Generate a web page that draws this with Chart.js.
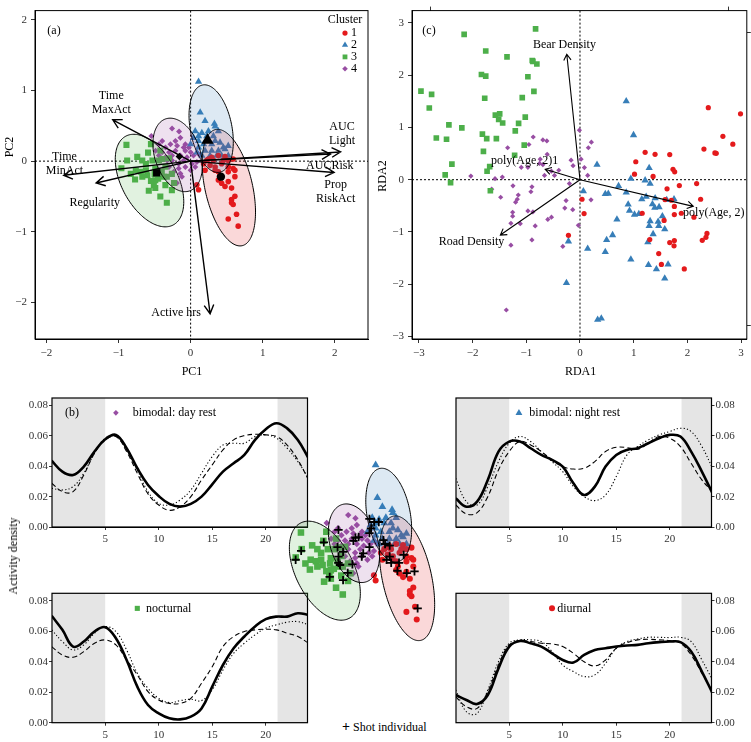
<!DOCTYPE html>
<html><head><meta charset="utf-8">
<script src="https://cdn.jsdelivr.net/npm/chart.js@4/dist/chart.umd.min.js"></script>
<style>
html,body{margin:0;padding:0;background:#fff;}
#wrap{position:relative;width:751px;height:742px;overflow:hidden;background:#fff;}
canvas{position:absolute;}
.lab{position:absolute;font-family:"Liberation Serif","DejaVu Serif",serif;font-size:12px;color:#000;white-space:nowrap;line-height:12px;}
</style></head><body>
<div id="wrap">
<canvas id="tl" width="320" height="162" style="left:0;top:390px"></canvas>
<canvas id="tr" width="311" height="162" style="left:440px;top:390px"></canvas>
<canvas id="bl" width="320" height="157" style="left:0;top:585px"></canvas>
<canvas id="br" width="311" height="157" style="left:440px;top:585px"></canvas>
<canvas id="pa" width="375" height="390" style="left:0;top:0"></canvas>
<canvas id="pc" width="376" height="390" style="left:375px;top:0"></canvas>
<canvas id="inset" width="175" height="210" style="left:275px;top:450px"></canvas>
<div class="lab" id="ylab" style="left:13px;top:556px;transform:translate(-50%,-50%) rotate(-90deg);">Activity density</div>
<div class="lab" id="shot" style="left:342px;top:721px;"><b style="font-size:14px">+</b> Shot individual</div>
</div>
<script>
const SERIF = '"Liberation Serif","DejaVu Serif",serif';
const COLORS = ['#E41A1C', '#377EB8', '#4DAF4A', '#984EA3'];
const FILLS = ['rgba(228,26,28,0.17)', 'rgba(55,126,184,0.17)', 'rgba(77,175,74,0.17)', 'rgba(152,78,163,0.17)'];
const CLUSTER_NAMES = ['1', '2', '3', '4'];

// ---------- Panel (a): PCA scores ----------
const pcaCluster1 = [[0.225,0.01],[0.293,0.055],[0.385,0.078],[0.477,0.065],[0.522,0.01],[0.59,0.03],[0.18,-0.037],[0.27,-0.06],[0.34,-0.083],[0.43,-0.037],[0.522,-0.083],[0.59,-0.106],[0.385,-0.152],[0.522,-0.152],[0.614,-0.22],[0.385,-0.267],[0.43,-0.313],[0.522,-0.29],[0.477,-0.36],[0.568,-0.382],[0.614,-0.498],[0.568,-0.544],[0.568,-0.59],[0.59,-0.613],[0.637,-0.751],[0.522,-0.82],[0.66,-0.92],[0.087,-0.336],[0.11,-0.406],[0.34,-0.129],[0.2,-0.129],[0.316,0.01],[0.454,0.01],[0.614,-0.129],[0.247,0.03],[0.408,-0.22]];
const pcaCluster2 = [[0.11,1.124],[0.133,0.69],[0.2,0.57],[0.33,0.53],[0.064,0.424],[0.156,0.40],[0.247,0.424],[0.04,0.33],[0.11,0.286],[0.225,0.355],[0.316,0.355],[0.385,0.424],[0.34,0.286],[0.408,0.263],[0.454,0.194],[0.293,0.24],[0.18,0.24],[0.11,0.194],[0.2,0.147],[0.293,0.147],[0.385,0.147],[0.477,0.17],[0.522,0.217],[0.27,0.078],[0.156,0.078],[0.087,0.124],[0.362,0.078],[0.43,0.078],[0.522,0.078],[0.11,0.355],[0.34,0.49],[0.0,0.24]];
const pcaCluster3 = [[-0.89,0.23],[-0.88,0.01],[-0.74,0.06],[-0.59,0.12],[-0.55,0.24],[-0.96,-0.10],[-0.76,-0.13],[-0.62,-0.04],[-0.53,0.01],[-0.49,-0.11],[-0.39,0.03],[-0.42,0.15],[-0.60,-0.20],[-0.49,-0.27],[-0.37,-0.22],[-0.35,-0.34],[-0.42,-0.50],[-0.33,-0.59],[-0.51,-0.34],[-0.62,-0.13],[-0.69,-0.15],[-0.77,-0.26],[-0.67,-0.22],[-0.49,-0.38],[-0.26,-0.41],[-0.23,-0.31],[-0.33,-0.22],[-0.55,-0.28],[-0.83,-0.18],[-0.67,0.01],[-0.44,0.01],[-0.35,-0.08],[-0.26,-0.18],[-0.40,-0.15],[-0.50,-0.18],[-0.58,-0.42],[-0.30,0.04],[-0.45,-0.25]];
const pcaCluster4 = [[-0.257,0.46],[-0.16,0.42],[-0.545,0.355],[-0.394,0.286],[-0.348,0.194],[-0.28,0.24],[-0.21,0.286],[-0.142,0.33],[-0.44,0.24],[-0.486,0.147],[-0.30,0.124],[-0.21,0.147],[-0.142,0.078],[-0.073,0.147],[0.0,0.124],[-0.096,0.01],[-0.165,-0.037],[-0.257,0.01],[-0.348,0.055],[-0.394,0.124],[-0.073,0.24],[-0.027,0.194],[0.04,0.078],[0.11,0.10],[0.087,-0.014],[0.018,-0.037],[-0.073,-0.083],[-0.165,-0.106],[-0.234,-0.152],[-0.30,-0.083],[-0.142,-0.175],[0.0,-0.129],[0.064,-0.083],[-0.257,0.078],[-0.325,0.01],[-0.44,0.078],[-0.096,0.194],[-0.188,0.217],[-0.05,0.055],[-0.12,-0.22],[-0.19,-0.31]];
const pcaCentroids = [[0.42,-0.22],[0.234,0.295],[-0.47,-0.166],[-0.156,0.065]];
const pcaLoadNames = [['Time','MaxAct'],['Time','MinAct'],['Regularity'],['AUC','Light'],['AUCRisk'],['Prop','RiskAct'],['Active hrs']];
const pcaLoadX = [-1.08,-1.76,-1.31,2.08,1.94,1.99,0.27];
const pcaLoadY = [0.585,-0.20,-0.31,0.13,0.10,-0.16,-2.16];
const pcaLabelX = [-1.10,-1.75,-1.33,2.10,1.93,2.01,-0.20];
const pcaLabelY = [0.82,-0.045,-0.595,0.39,-0.065,-0.43,-2.148];
// cluster ellipses: centre, half-extent in x / y, correlation
const ellCx = [0.53, 0.285, -0.57, -0.18];
const ellCy = [-0.375, 0.46, -0.275, 0.088];
const ellSx = [0.37, 0.307, 0.475, 0.343];
const ellSy = [0.825, 0.62, 0.655, 0.52];
const ellR  = [-0.42, -0.30, -0.46, -0.30];
const shotIndividuals = [[-0.961,-0.13],[-0.887,-0.013],[-0.584,0.099],[-0.388,0.265],[-0.40,0.036],[-0.326,-0.026],[-0.388,-0.088],[-0.388,-0.171],[-0.367,-0.2],[-0.264,-0.304],[-0.201,-0.192],[-0.326,-0.40],[-0.505,-0.358],[-0.16,0.161],[-0.118,0.17],[-0.188,0.12],[-0.056,-0.046],[-0.076,-0.088],[0.027,0.036],[0.027,0.41],[0.049,0.285],[0.027,0.223],[0.09,0.369],[0.152,0.369],[0.214,0.128],[0.236,0.078],[0.298,0.057],[0.298,-0.088],[0.318,-0.171],[0.256,-0.13],[0.423,-0.171],[0.485,-0.067],[0.526,-0.308],[0.63,-0.283],[0.672,-0.774],[0.401,-0.276]];

// ---------- Panel (c): RDA site scores ----------
const rdaCluster1 = [[2.389,1.377],[2.989,1.259],[2.661,0.829],[2.846,0.679],[2.308,0.586],[2.512,0.511],[2.537,0.505],[1.213,0.523],[1.398,0.486],[1.671,0.480],[1.039,0.343],[1.732,0.199],[1.763,0.150],[1.015,0.106],[1.361,0.062],[1.850,-0.112],[2.172,-0.075],[1.621,-0.174],[2.246,-0.374],[1.584,-0.380],[1.702,-0.393],[1.757,-0.511],[0.038,-0.374],[1.757,-0.667],[1.887,-0.642],[2.122,-0.717],[1.158,-0.642],[0.076,-0.648],[1.566,-0.779],[2.364,-1.028],[2.345,-1.103],[2.277,-1.159],[1.757,-1.165],[1.671,-1.202],[1.751,-1.265],[1.299,-1.146],[1.466,-1.414],[1.516,-1.620],[1.942,-1.707],[-0.215,-1.065]];
const rdaCluster2 = [[0.861,1.502],[0.997,0.854],[0.317,0.287],[1.288,0.224],[0.947,0.019],[1.213,-0.012],[1.306,-0.075],[0.063,-0.218],[0.718,-0.118],[0.861,-0.243],[0.471,-0.274],[0.527,-0.268],[1.232,-0.324],[1.399,-0.355],[1.151,-0.374],[1.751,-0.374],[1.615,-0.386],[0.897,-0.474],[0.922,-0.592],[1.349,-0.467],[1.473,-0.523],[1.015,-0.667],[1.096,-0.654],[1.392,-0.536],[1.534,-0.698],[1.306,-0.791],[1.288,-0.885],[1.455,-0.804],[1.578,-0.947],[1.362,-1.040],[1.467,-0.885],[0.688,-0.760],[0.607,-1.059],[0.496,-1.153],[1.263,-1.196],[-0.215,-1.178],[0.143,-1.321],[0.471,-1.383],[0.947,-1.526],[1.275,-1.632],[1.423,-1.713],[1.640,-1.620],[1.578,-1.888],[-0.252,-1.975],[0.329,-2.679],[0.397,-2.654]];
const rdaCluster3 = [[-2.157,2.779],[-0.827,2.885],[-1.755,2.461],[-1.359,2.349],[-1.835,2.012],[-1.755,1.981],[-0.97,1.969],[-0.889,2.28],[-0.877,2.262],[-0.803,2.212],[-2.961,1.695],[-2.763,1.632],[-2.806,1.371],[-1.774,1.558],[-1.075,1.570],[-0.858,1.688],[-2.441,1.047],[-2.2,0.991],[-1.576,1.234],[-1.495,1.259],[-1.514,1.153],[-1.44,1.084],[-1.817,0.872],[-1.737,0.785],[-1.557,0.785],[-1.143,1.078],[-1.019,1.196],[-1.205,0.935],[-2.675,0.798],[-2.485,0.773],[-1.038,0.660],[-1.217,0.467],[-1.798,0.542],[-2.385,0.299],[-1.681,0.249],[-2.51,0.093],[-2.41,-0.056],[-1.73,0.162],[-1.669,-0.212]];
const rdaCluster4 = [[-0.011,0.947],[0.212,0.717],[0.156,0.611],[-0.871,0.816],[-0.691,0.760],[-0.617,0.741],[-1.347,0.611],[-0.951,0.673],[-0.611,0.486],[-0.741,0.393],[-0.166,0.374],[0.02,0.393],[-1.093,0.237],[-0.970,0.237],[-0.753,0.312],[-0.691,0.287],[-0.129,0.268],[0.082,0.231],[-0.395,0.181],[-0.531,0.162],[-0.475,0.081],[-0.661,0.081],[0.143,0.081],[-2.032,0.069],[-1.582,0.019],[-1.446,0.05],[-0.197,-0.075],[-1.644,-0.181],[-1.248,-0.118],[-0.895,-0.137],[-0.914,-0.231],[-1.149,-0.293],[-1.477,-0.336],[-1.168,-0.374],[-1.199,-0.430],[0.205,-0.386],[-0.259,-0.399],[-0.135,-0.573],[-0.283,-0.542],[-1.254,-0.623],[-0.970,-0.598],[-0.877,-0.617],[-1.254,-0.698],[-0.531,-0.717],[-0.599,-0.760],[-1.286,-0.835],[-1.112,-0.841],[-0.834,-0.885],[-0.030,-0.872],[-0.895,-1.153],[-1.286,-1.252],[-0.32,-1.277],[-1.372,-2.492]];
const rdaVarNames = ['Bear Density','poly(Age, 2)1','Road Density','poly(Age, 2)'];
const rdaVarX = [-0.246,-0.648,-1.483,2.11];
const rdaVarY = [2.399,0.20,-1.059,-0.51];
const rdaLabelX = [-0.29,-1.03,-2.02,2.49];
const rdaLabelY = [2.574,0.36,-1.18,-0.636];
const rdaTopTicks = [-2.79, 2.77];
const rdaRightTicks = [2.82, -2.79];

// ---------- Panel (b): activity density by hour ----------
const hours = [0,1,2,3,4,5,6,7,8,9,10,11,12,13,14,15,16,17,18,19,20,21,22,23,24];
const nightBands = [[0,5],[21.1,24]];
const dayRestSolid  = [0.0437,0.0365,0.0343,0.0398,0.0497,0.0578,0.0607,0.0519,0.0387,0.0277,0.0204,0.0152,0.0134,0.0152,0.0200,0.0281,0.0365,0.0420,0.0475,0.0574,0.0644,0.0684,0.0650,0.0574,0.0453];
const dayRestDashed = [0.0288,0.0233,0.0233,0.0343,0.0486,0.0574,0.0596,0.0497,0.0354,0.0218,0.0145,0.0110,0.0134,0.0200,0.0310,0.0409,0.0508,0.0574,0.0602,0.0611,0.0607,0.0596,0.0540,0.0442,0.0310];
const dayRestDotted = [0.0255,0.0244,0.0266,0.0354,0.0486,0.0585,0.0596,0.0508,0.0376,0.0233,0.0156,0.0145,0.0178,0.0244,0.0354,0.0464,0.0540,0.0552,0.0552,0.0596,0.0607,0.0585,0.0519,0.0431,0.0321];
const nightRestSolid  = [0.0189,0.0134,0.0167,0.0310,0.0497,0.0563,0.0563,0.0519,0.0475,0.0442,0.0398,0.0288,0.0211,0.0266,0.0398,0.0475,0.0508,0.0519,0.0552,0.0585,0.0607,0.0596,0.0497,0.0365,0.0222];
const nightRestDashed = [0.0145,0.0086,0.0095,0.0200,0.0376,0.0497,0.0563,0.0541,0.0497,0.0442,0.0398,0.0382,0.0387,0.0431,0.0497,0.0525,0.0523,0.0512,0.0552,0.0596,0.0585,0.0530,0.0420,0.0310,0.0233];
const nightRestDotted = [0.0321,0.0167,0.0145,0.0266,0.0431,0.0552,0.0596,0.0563,0.0497,0.0431,0.0365,0.0266,0.0200,0.0174,0.0211,0.0332,0.0475,0.0530,0.0574,0.0607,0.0629,0.0651,0.0629,0.0530,0.0387];
const nocturnalSolid  = [0.0702,0.0610,0.0500,0.0533,0.0599,0.0627,0.0555,0.0412,0.0237,0.0116,0.0061,0.0029,0.0022,0.0040,0.0094,0.0237,0.0379,0.0489,0.0566,0.0632,0.0680,0.0697,0.0697,0.0719,0.0708];
const nocturnalDashed = [0.0500,0.0445,0.0430,0.0467,0.0522,0.0544,0.0511,0.0412,0.0314,0.0204,0.0149,0.0127,0.0127,0.0160,0.0259,0.0368,0.0500,0.0566,0.0599,0.0610,0.0614,0.0610,0.0588,0.0566,0.0522];
const nocturnalDotted = [0.0610,0.0533,0.0478,0.0511,0.0588,0.0632,0.0599,0.0478,0.0325,0.0226,0.0160,0.0132,0.0145,0.0154,0.0145,0.0215,0.0346,0.0456,0.0522,0.0577,0.0621,0.0643,0.0660,0.0664,0.0643];
const diurnalSolid  = [0.0182,0.0149,0.0123,0.0182,0.0357,0.0500,0.0537,0.0522,0.0500,0.0456,0.0412,0.0395,0.0445,0.0478,0.0489,0.0500,0.0507,0.0511,0.0522,0.0529,0.0533,0.0529,0.0467,0.0336,0.0193];
const diurnalDashed = [0.0171,0.0105,0.0094,0.0204,0.0379,0.0511,0.0539,0.0533,0.0522,0.0518,0.0500,0.0456,0.0401,0.0373,0.0412,0.0489,0.0526,0.0544,0.0548,0.0544,0.0539,0.0522,0.0445,0.0325,0.0204];
const diurnalDotted = [0.0215,0.0072,0.0061,0.0215,0.0401,0.0522,0.0544,0.0544,0.0533,0.0467,0.0379,0.0336,0.0303,0.0314,0.0390,0.0489,0.0533,0.0550,0.0561,0.0561,0.0559,0.0561,0.0533,0.0412,0.0280];

// ================= helpers =================
const toXY = arr => arr.map(p => ({x: p[0], y: p[1]}));
const TICKFONT = {family: SERIF, size: 11};
const STYLES = ['circle', 'triangle', 'rect', 'rectRot'];
const minus = v => String(v).replace('-', '\u2212');

function axisCfg(extra) {
  return Object.assign({
    type: 'linear',
    grid: {display: true, drawOnChartArea: false, drawTicks: true, tickLength: 4, color: '#333', lineWidth: 1},
    border: {display: true, color: '#000', width: 1},
    ticks: {font: TICKFONT, color: '#333', padding: 4, includeBounds: false}
  }, extra);
}

function drawArrow(ctx, x0, y0, x1, y1, head, ang) {
  const a = Math.atan2(y1 - y0, x1 - x0);
  ctx.beginPath();
  ctx.moveTo(x0, y0); ctx.lineTo(x1, y1);
  ctx.moveTo(x1 - head * Math.cos(a - ang), y1 - head * Math.sin(a - ang));
  ctx.lineTo(x1, y1);
  ctx.lineTo(x1 - head * Math.cos(a + ang), y1 - head * Math.sin(a + ang));
  ctx.stroke();
}

function drawEllipses(chart) {
  const {ctx, scales: {x, y}} = chart;
  ctx.save();
  for (let k = 0; k < ellCx.length; k++) {
    const sx = ellSx[k], sy = ellSy[k], r = ellR[k];
    const b = r * sy, c = sy * Math.sqrt(1 - r * r);
    ctx.beginPath();
    for (let i = 0; i <= 160; i++) {
      const t = i / 160 * 2 * Math.PI;
      const X = ellCx[k] + sx * Math.cos(t);
      const Y = ellCy[k] + b * Math.cos(t) + c * Math.sin(t);
      const px = x.getPixelForValue(X), py = y.getPixelForValue(Y);
      if (i === 0) ctx.moveTo(px, py); else ctx.lineTo(px, py);
    }
    ctx.closePath();
    ctx.fillStyle = FILLS[k];
    ctx.fill();
    ctx.lineWidth = 1;
    ctx.strokeStyle = '#000';
    ctx.stroke();
  }
  ctx.restore();
}

function zeroLines(chart) {
  const {ctx, chartArea: a, scales: {x, y}} = chart;
  ctx.save();
  ctx.strokeStyle = '#000'; ctx.lineWidth = 1; ctx.setLineDash([2, 2]);
  const x0 = x.getPixelForValue(0), y0 = y.getPixelForValue(0);
  ctx.beginPath(); ctx.moveTo(x0, a.top); ctx.lineTo(x0, a.bottom); ctx.stroke();
  ctx.beginPath(); ctx.moveTo(a.left, y0); ctx.lineTo(a.right, y0); ctx.stroke();
  ctx.restore();
}

function boxIt(chart, lw) {
  const {ctx, chartArea: a} = chart;
  ctx.save(); ctx.strokeStyle = '#000'; ctx.lineWidth = lw || 1;
  ctx.strokeRect(a.left, a.top, a.right - a.left, a.bottom - a.top);
  ctx.restore();
}

function text(ctx, s, x, y, size, align) {
  ctx.font = (size || 12) + 'px ' + SERIF;
  ctx.fillStyle = '#000';
  ctx.textAlign = align || 'center';
  ctx.textBaseline = 'middle';
  ctx.fillText(s, x, y);
}

function ellipsePlugin(id, withZero) {
  let done = false;
  return {
    id: id,
    beforeDatasetsDraw(chart) { done = false; if (withZero) zeroLines(chart); },
    beforeDatasetDraw(chart, args) {
      if (!done && chart.data.datasets[args.index].overEllipse) { drawEllipses(chart); done = true; }
    },
    afterDatasetsDraw(chart) { if (!done) { drawEllipses(chart); done = true; } }
  };
}

// ================= Panel (a) =================
const clusterSets = [pcaCluster1, pcaCluster2, pcaCluster3, pcaCluster4];
const radA = [2.8, 4.2, 4.3, 3.0];
const centRad = [4.2, 7.0, 5.2, 3.8];
const dsA = clusterSets.map((s, k) => ({
  data: toXY(s), pointStyle: STYLES[k], pointRadius: radA[k], pointBackgroundColor: COLORS[k],
  pointBorderWidth: 0, showLine: false, order: 10
}));
pcaCentroids.forEach((p, k) => dsA.push({
  data: toXY([p]), pointStyle: STYLES[k], pointRadius: centRad[k], pointBackgroundColor: '#000',
  pointBorderWidth: 0, showLine: false, order: 1, overEllipse: true
}));

new Chart(document.getElementById('pa'), {
  type: 'scatter',
  data: {datasets: dsA},
  options: {
    responsive: false, animation: false, devicePixelRatio: 1,
    layout: {padding: {left: 0, top: 3, right: 4, bottom: 0}},
    plugins: {legend: {display: false}, tooltip: {enabled: false}},
    scales: {
      x: axisCfg({min: -2.158, max: 2.46, afterFit: s => { s.height = 51; }, ticks: {font: TICKFONT, color: '#333', padding: 4, stepSize: 1, includeBounds: false, callback: minus}}),
      y: axisCfg({min: -2.517, max: 2.13, afterFit: s => { s.width = 35; }, ticks: {font: TICKFONT, color: '#333', padding: 4, stepSize: 1, includeBounds: false, callback: minus}})
    }
  },
  plugins: [ellipsePlugin('ellA', true), {
    id: 'decoA',
    afterDatasetsDraw(chart) {
      const {ctx, chartArea: a, scales: {x, y}} = chart;
      ctx.save();
      ctx.strokeStyle = '#000'; ctx.lineWidth = 1.4; ctx.setLineDash([]);
      const ox = x.getPixelForValue(0), oy = y.getPixelForValue(0);
      pcaLoadX.forEach((v, i) => drawArrow(ctx, ox, oy, x.getPixelForValue(v), y.getPixelForValue(pcaLoadY[i]), 10, 0.5));
      pcaLoadNames.forEach((lines, i) => {
        const cx = x.getPixelForValue(pcaLabelX[i]), cy = y.getPixelForValue(pcaLabelY[i]);
        const n = lines.length;
        lines.forEach((s, j) => text(ctx, s, cx, cy + (j - (n - 1) / 2) * 14, 12));
      });
      text(ctx, '(a)', a.left + 19, a.top + 20, 12);
      text(ctx, 'Cluster', a.right - 23, a.top + 9, 12);
      CLUSTER_NAMES.forEach((nm, k) => {
        const yy = a.top + 22.5 + k * 11.9;
        ctx.fillStyle = COLORS[k];
        Chart.helpers.drawPoint(ctx, {pointStyle: STYLES[k], radius: [2.6, 3.6, 3.4, 2.8][k], rotation: 0, borderWidth: 0}, a.right - 23, yy);
        text(ctx, nm, a.right - 17, yy, 12, 'left');
      });
      text(ctx, 'PC1', 192, 372, 12);
      ctx.save(); ctx.translate(10, 147); ctx.rotate(-Math.PI / 2); text(ctx, 'PC2', 0, 0, 12); ctx.restore();
      ctx.restore();
    },
    afterDraw(chart) { boxIt(chart, 1); }
  }]
});

// ================= Panel (c) =================
const rdaSets = [rdaCluster1, rdaCluster2, rdaCluster3, rdaCluster4];
const radC = [2.6, 4.2, 4.0, 2.6];
const dsC = rdaSets.map((s, k) => ({
  data: toXY(s), pointStyle: STYLES[k], pointRadius: radC[k], pointBackgroundColor: COLORS[k],
  pointBorderWidth: 0, showLine: false
}));

new Chart(document.getElementById('pc'), {
  type: 'scatter',
  data: {datasets: dsC},
  options: {
    responsive: false, animation: false, devicePixelRatio: 1,
    layout: {padding: {left: 0, top: 3, right: 3, bottom: 0}},
    plugins: {legend: {display: false}, tooltip: {enabled: false}},
    scales: {
      x: axisCfg({min: -3.128, max: 3.106, afterFit: s => { s.height = 51; }, ticks: {font: TICKFONT, color: '#333', padding: 4, stepSize: 1, includeBounds: false, callback: minus}}),
      y: axisCfg({min: -3.047, max: 3.234, afterFit: s => { s.width = 37; }, ticks: {font: TICKFONT, color: '#333', padding: 4, stepSize: 1, includeBounds: false, callback: minus}}),
      x2: {type: 'linear', position: 'top', min: -3.128, max: 3.106, afterFit: s => { s.height = 0; },
           afterBuildTicks: s => { s.ticks = rdaTopTicks.map(v => ({value: v})); },
           ticks: {display: false}, grid: {display: true, drawOnChartArea: false, drawTicks: true, tickLength: 4, color: '#333'}, border: {display: false}},
      y2: {type: 'linear', position: 'right', min: -3.047, max: 3.234, afterFit: s => { s.width = 0; },
           afterBuildTicks: s => { s.ticks = rdaRightTicks.map(v => ({value: v})); },
           ticks: {display: false}, grid: {display: true, drawOnChartArea: false, drawTicks: true, tickLength: 4, color: '#333'}, border: {display: false}}
    }
  },
  plugins: [{
    id: 'decoC',
    beforeDatasetsDraw(chart) { zeroLines(chart); },
    afterDatasetsDraw(chart) {
      const {ctx, chartArea: a, scales: {x, y}} = chart;
      ctx.save();
      ctx.strokeStyle = '#000'; ctx.lineWidth = 1.1; ctx.setLineDash([]);
      const ox = x.getPixelForValue(0), oy = y.getPixelForValue(0);
      rdaVarX.forEach((v, i) => drawArrow(ctx, ox, oy, x.getPixelForValue(v), y.getPixelForValue(rdaVarY[i]), 7, 0.55));
      rdaVarNames.forEach((s, i) => text(ctx, s, x.getPixelForValue(rdaLabelX[i]), y.getPixelForValue(rdaLabelY[i]), 12));
      text(ctx, '(c)', a.left + 17, a.top + 20, 12);
      text(ctx, 'RDA1', 205.6, 372, 12);
      ctx.save(); ctx.translate(8, 176); ctx.rotate(-Math.PI / 2); text(ctx, 'RDA2', 0, 0, 12); ctx.restore();
      ctx.restore();
    },
    afterDraw(chart) { boxIt(chart, 1); }
  }]
});

// ================= Panel (b) line charts =================
const X_MIN = 0.03, X_MAX = 23.9;
function linePanel(id, series, o) {
  const mk = (vals, extra) => Object.assign({
    data: hours.map((h, i) => ({x: h, y: vals[i]})), borderColor: '#000', pointRadius: 0,
    tension: 0.4, fill: false
  }, extra);
  new Chart(document.getElementById(id), {
    type: 'line',
    data: {datasets: [
      mk(series[0], {borderWidth: 2.6}),
      mk(series[1], {borderWidth: 1.1, borderDash: [5, 3]}),
      mk(series[2], {borderWidth: 1.1, borderDash: [1.2, 2.2]})
    ]},
    options: {
      responsive: false, animation: false, devicePixelRatio: 1,
      layout: {padding: o.padding},
      plugins: {legend: {display: false}, tooltip: {enabled: false}},
      scales: {
        x: axisCfg({min: X_MIN, max: X_MAX, afterFit: s => { s.height = o.xH; },
          grid: {display: true, drawOnChartArea: false, drawTicks: true, tickLength: 3, color: '#333'},
          ticks: {font: TICKFONT, color: '#333', padding: 3, stepSize: 5, includeBounds: false}}),
        y: axisCfg({position: o.yPos, min: 0, max: 0.085, afterFit: s => { s.width = o.yW; },
          grid: {display: true, drawOnChartArea: false, drawTicks: true, tickLength: 3, color: '#333'},
          ticks: {font: TICKFONT, color: '#333', padding: 1, stepSize: 0.02, includeBounds: false, callback: v => v.toFixed(2)}})
      }
    },
    plugins: [{
      id: 'shade_' + id,
      beforeDatasetsDraw(chart) {
        const {ctx, chartArea: a, scales: {x}} = chart;
        ctx.save(); ctx.fillStyle = '#e5e5e5';
        nightBands.forEach(([s, e]) => {
          const x0 = Math.max(a.left, x.getPixelForValue(s)), x1 = Math.min(a.right, x.getPixelForValue(e));
          ctx.fillRect(x0, a.top, x1 - x0, a.bottom - a.top);
        });
        ctx.restore();
      },
      afterDatasetsDraw(chart) {
        const {ctx, scales: {x, y}} = chart;
        ctx.save();
        const mx = x.getPixelForValue(o.mark[0]), my = y.getPixelForValue(o.mark[1]);
        ctx.fillStyle = COLORS[o.cluster];
        Chart.helpers.drawPoint(ctx, {pointStyle: STYLES[o.cluster], radius: [3, 4, 3.6, 2.8][o.cluster], rotation: 0, borderWidth: 0}, mx, my);
        text(ctx, o.label, x.getPixelForValue(o.textX), my, 12, 'left');
        if (o.tag) text(ctx, o.tag, x.getPixelForValue(1.9), my, 12);
        ctx.restore();
      },
      afterDraw(chart) { boxIt(chart, 1.2); }
    }]
  });
}
linePanel('tl', [dayRestSolid, dayRestDashed, dayRestDotted], {padding: {left: 0, top: 8, right: 12.5, bottom: 0}, xH: 25, yW: 52, yPos: 'left', mark: [6.0, 0.0752], textX: 7.57, label: 'bimodal: day rest', cluster: 3, tag: '(b)'});
linePanel('tr', [nightRestSolid, nightRestDashed, nightRestDotted], {padding: {left: 16, top: 8, right: 0, bottom: 0}, xH: 25, yW: 39.5, yPos: 'right', mark: [5.91, 0.0751], textX: 6.88, label: 'bimodal: night rest', cluster: 1});
linePanel('bl', [nocturnalSolid, nocturnalDashed, nocturnalDotted], {padding: {left: 0, top: 8.3, right: 12.5, bottom: 0}, xH: 19.3, yW: 52, yPos: 'left', mark: [8.0, 0.0751], textX: 8.81, label: 'nocturnal', cluster: 2});
linePanel('br', [diurnalSolid, diurnalDashed, diurnalDotted], {padding: {left: 16, top: 8.3, right: 0, bottom: 0}, xH: 19.3, yW: 39.5, yPos: 'right', mark: [9.0, 0.0751], textX: 9.49, label: 'diurnal', cluster: 0});

// ================= Inset: clusters with shot individuals =================
const dsI = clusterSets.map((s, k) => ({
  data: toXY(s), pointStyle: STYLES[k], pointRadius: radA[k] * 1.08, pointBackgroundColor: COLORS[k],
  pointBorderWidth: 0, showLine: false, order: 10, clip: false
}));
dsI.push({data: toXY(shotIndividuals), pointStyle: 'cross', pointRadius: 4.2, pointBorderColor: '#000',
  pointBorderWidth: 1.8, showLine: false, order: 1, overEllipse: true, clip: false});
new Chart(document.getElementById('inset'), {
  type: 'scatter',
  data: {datasets: dsI},
  options: {
    responsive: false, animation: false, devicePixelRatio: 1,
    layout: {padding: 0},
    plugins: {legend: {display: false}, tooltip: {enabled: false}},
    scales: {
      x: {type: 'linear', display: false, min: -1.157, max: 1.025},
      y: {type: 'linear', display: false, min: -1.377, max: 1.242}
    }
  },
  plugins: [ellipsePlugin('ellI', false)]
});
</script>
</body></html>
